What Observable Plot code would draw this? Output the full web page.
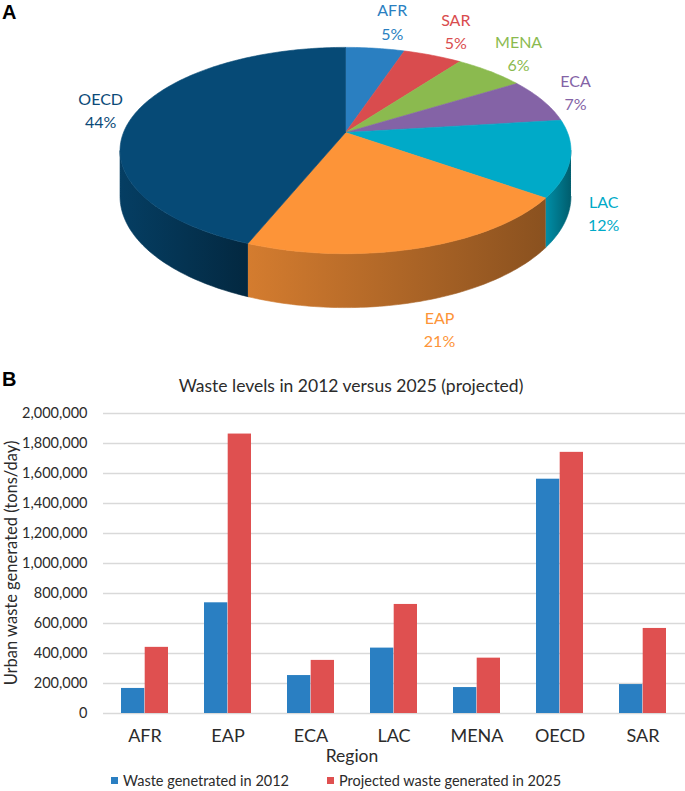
<!DOCTYPE html>
<html><head><meta charset="utf-8">
<script src="https://cdn.jsdelivr.net/npm/d3@7"></script>
<script src="https://cdn.jsdelivr.net/npm/@observablehq/plot@0.6"></script>
<style>
body{margin:0;background:#fff;font-family:Lato,sans-serif;}
#wrap{position:relative;width:685px;height:791px;overflow:hidden;background:#fff;}
.abs{position:absolute;white-space:nowrap;}
</style></head><body><div id="wrap"></div>
<script>
// ---- Panel A data (pie, clockwise from 12 o'clock) ----
const pieRegions = ["AFR","SAR","MENA","ECA","LAC","EAP","OECD"];
const pieShares  = [5,5,6,7,12,21,44];
const pieColors  = ["#2a7fc1","#d94c4e","#8bba4f","#8463a6","#00aac8","#fd9438","#064a76"];
const labelColors= ["#2a7fc1","#d94c4e","#8bba4f","#8463a6","#00aac8","#fd9438","#0b4a78"];

// ---- Panel B data ----
const regions   = ["AFR","EAP","ECA","LAC","MENA","OECD","SAR"];
const waste2012 = [167000,738000,253000,436000,173000,1562000,193000];
const waste2025 = [441000,1863000,354000,727000,369000,1741000,567000];
const yTicks    = [0,200000,400000,600000,800000,1000000,1200000,1400000,1600000,1800000,2000000];
const seriesNames = ["Waste genetrated in 2012","Projected waste generated in 2025"];
const seriesColors = ["#2a7fc2","#df5050"];

const wrap = document.getElementById("wrap");
function addDiv(html, css){const d=document.createElement("div");d.className="abs";d.innerHTML=html;Object.assign(d.style,css);wrap.appendChild(d);return d;}

// ---------- Pie (3D, perspective) ----------
const W = 685, PH = 370;
const cx = 345, cy = 132, R = 222, Ry = 100, k = 0.1748, H = 44.5;
function proj(t, r=1, drop=0){
  const Z = r*Math.cos(t), X = r*Math.sin(t), f = 1/(1+k*Z);
  return {x: cx + R*X*f, y: cy - Ry*Z*f + drop*f};
}
const total = d3.sum(pieShares);
let acc = 0;
const slices = pieShares.map((v,i)=>{const a0 = acc/total*2*Math.PI; acc+=v; const a1 = acc/total*2*Math.PI; return {i, name:pieRegions[i], v, a0, a1, color:pieColors[i]};});
const tl = Math.acos(-k), tr = 2*Math.PI - tl;
function arcPts(a0,a1,drop=0,r=1){const n=Math.max(2,Math.ceil((a1-a0)/(Math.PI/180)));return d3.range(n+1).map(j=>proj(a0+(a1-a0)*j/n,r,drop));}

const topPolys = slices.map(s=>[{x:cx,y:cy},...arcPts(s.a0,s.a1),{x:cx,y:cy}]);
const sidePolys = slices.map(s=>{
  const s0=Math.max(s.a0,tl), s1=Math.min(s.a1,tr);
  if (s1<=s0) return null;
  return [...arcPts(s0,s1,0), ...arcPts(s0,s1,H).reverse()];
});
const shadowPoly = arcPts(tl-0.25, tr+0.25, H+6, 1.015).concat(arcPts(tl-0.25,tr+0.25,H-30,0.96).reverse());
const rimLine = arcPts(tl, tr, 2);

const labelData = slices.map(s=>{
  const m=(s.a0+s.a1)/2, p=proj(m), sn=Math.sin(m), cs=Math.cos(m);
  const front = (m>tl && m<tr);
  const f = 1/(1+k*cs);
  return {x: p.x + sn*20 + Math.sign(sn)*14, y: p.y - cs*28 + (front ? H*f : 0),
          text: s.name + "\n" + Math.round(s.v/total*100) + "%", color: labelColors[s.i]};
});

const pieMarks = [
  Plot.line(shadowPoly,{x:"x",y:"y",fill:"#000",fillOpacity:0.13,stroke:"none",ariaLabel:"shadow"})
];
slices.forEach((s,i)=>{ if (sidePolys[i]) pieMarks.push(Plot.line(sidePolys[i],{x:"x",y:"y",fill:`url(#side${i})`,stroke:`url(#side${i})`,strokeWidth:0.6})); });
pieMarks.push(Plot.line(rimLine,{x:"x",y:"y",stroke:"#fff",strokeOpacity:0.25,strokeWidth:3,ariaLabel:"bevel"}));
slices.forEach((s,i)=>{ pieMarks.push(Plot.line(topPolys[i],{x:"x",y:"y",fill:s.color,stroke:s.color,strokeWidth:0.6})); });
pieMarks.push(Plot.text(labelData,{x:"x",y:"y",text:"text",fill:"color",fontSize:16,lineHeight:1.45}));

const pie = Plot.plot({
  width: W, height: PH, margin: 0,
  x: {domain:[0,W], range:[0,W], axis:null},
  y: {domain:[0,PH], range:[0,PH], axis:null},
  color: {type:"identity"},
  style: {fontFamily:"Lato, sans-serif", background:"transparent", overflow:"visible"},
  marks: pieMarks
});
{
  const defs = d3.select(pie).insert("defs",":first-child");
  const filt = defs.append("filter").attr("id","blurSh").attr("x","-20%").attr("y","-50%").attr("width","140%").attr("height","200%");
  filt.append("feGaussianBlur").attr("stdDeviation",7);
  const filt2 = defs.append("filter").attr("id","blurBv");
  filt2.append("feGaussianBlur").attr("stdDeviation",1.2);
  slices.forEach((s,i)=>{
    const g = defs.append("linearGradient").attr("id",`side${i}`).attr("x1",0).attr("x2",1).attr("y1",0).attr("y2",0);
    g.append("stop").attr("offset","0%").attr("stop-color", d3.color(s.color).darker(0.5).formatHex());
    g.append("stop").attr("offset","100%").attr("stop-color", d3.color(s.color).darker(1.7).formatHex());
  });
  d3.select(pie).selectAll('[aria-label="shadow"] path').attr("filter","url(#blurSh)");
  d3.select(pie).selectAll('[aria-label="bevel"] path').attr("filter","url(#blurBv)");
}
pie.style.position="absolute"; pie.style.left="0px"; pie.style.top="0px";
wrap.appendChild(pie);
addDiv("A",{left:"2px",top:"1px",fontFamily:"'Liberation Sans',Arial,sans-serif",fontWeight:"bold",fontSize:"20px",color:"#000"});

// ---------- Bars ----------
const table = regions.map((r,i)=>({region:r, v2012:waste2012[i], v2025:waste2025[i]}));
const mL = 103, mR = 0, pad = 0.43;
const bw = (W-mL-mR)/regions.length*(1-pad);
const bars = Plot.plot({
  width: W, height: 368, marginLeft: mL, marginRight: mR, marginTop: 13, marginBottom: 55,
  x: {domain: regions, paddingInner: pad, paddingOuter: pad/2, label: null, tickSize: 0, tickPadding: 16},
  y: {domain: [0,2000000], ticks: 10, tickFormat: d3.format(","), tickSize: 0, tickPadding: 16, label: null},
  style: {fontFamily:"Lato, sans-serif", fontSize:"14.5px", color:"#2b2b2b", background:"transparent"},
  marks: [
    Plot.ruleY(yTicks,{stroke:"#d9d9d9",strokeWidth:1.5}),
    Plot.barY(table,{x:"region", y:"v2012", fill:seriesColors[0], insetRight: bw/2}),
    Plot.barY(table,{x:"region", y:"v2025", fill:seriesColors[1], insetLeft: bw/2})
  ]
});
d3.select(bars).selectAll('[aria-label^="x-axis"] text').style("font-size","18px");
bars.style.position="absolute"; bars.style.left="0px"; bars.style.top="400px";
wrap.appendChild(bars);

addDiv("B",{left:"2px",top:"368px",fontFamily:"'Liberation Sans',Arial,sans-serif",fontWeight:"bold",fontSize:"20px",color:"#000"});
addDiv("Waste levels in 2012 versus 2025 (projected)",{left:"351px",top:"375px",transform:"translateX(-50%)",fontSize:"17.5px",lineHeight:"22px",color:"#2b2b2b"});
addDiv("Urban waste generated (tons/day)",{left:"11px",top:"563px",transform:"translate(-50%,-50%) rotate(-90deg)",fontSize:"16.5px",lineHeight:"18px",color:"#2b2b2b"});
addDiv("Region",{left:"352px",top:"745px",transform:"translateX(-50%)",fontSize:"17.5px",lineHeight:"22px",color:"#2b2b2b"});
const legX = [111, 327];
seriesNames.forEach((n,i)=>{
  addDiv("",{left:legX[i]+"px",top:"777px",width:"7px",height:"7px",background:seriesColors[i]});
  addDiv(n,{left:(legX[i]+12)+"px",top:"771px",fontSize:"14.5px",lineHeight:"20px",color:"#2b2b2b"});
});
</script></body></html>
